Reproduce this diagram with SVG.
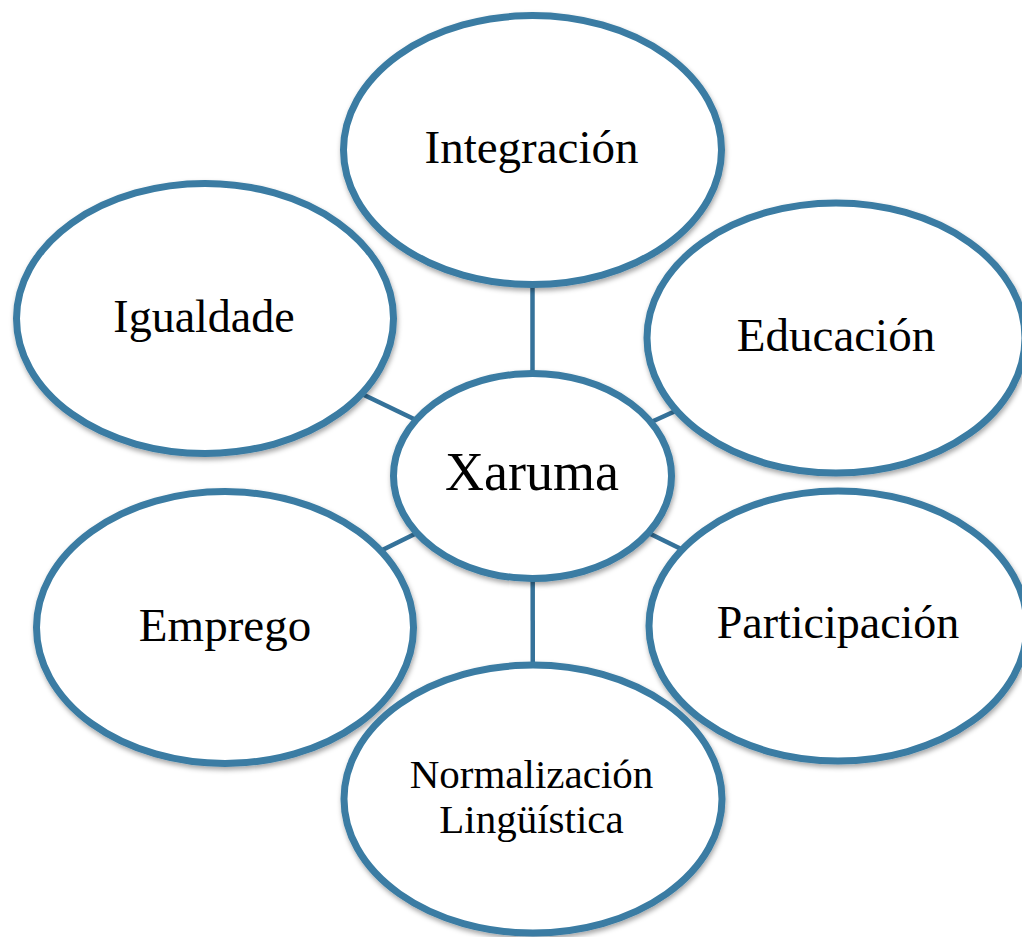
<svg xmlns="http://www.w3.org/2000/svg" width="1022" height="937" viewBox="0 0 1022 937">
  <defs>
    <filter id="sh" x="-10%" y="-10%" width="120%" height="125%">
      <feDropShadow dx="1" dy="3" stdDeviation="2.5" flood-color="#000" flood-opacity="0.35"/>
    </filter>
    <style>
      .node ellipse { fill: #ffffff; stroke: #3a7ca3; stroke-width: 7; filter: url(#sh); }
      .conn line { stroke: #35729a; stroke-width: 4.5; }
      .lbl { fill: #000; text-anchor: middle; }
    </style>
  </defs>
  <rect x="0" y="0" width="1022" height="937" fill="#ffffff"/>
  <g id="connectors" class="conn">
    <line x1="532.5" y1="476" x2="532.5" y2="150"/>
    <line x1="532.5" y1="476" x2="836" y2="338"/>
    <line x1="532.5" y1="476" x2="838" y2="626"/>
    <line x1="532.5" y1="476" x2="533" y2="799"/>
    <line x1="532.5" y1="476" x2="225" y2="627.5"/>
    <line x1="532.5" y1="476" x2="205" y2="318.5"/>
  </g>
  <g font-family="'Liberation Serif', 'DejaVu Serif', serif">
  <g id="node-xaruma" class="node">
    <ellipse cx="532.5" cy="476" rx="139" ry="102.5"/>
    <text class="lbl" x="532" y="490" font-size="54">Xaruma</text>
  </g>
  <g id="node-integracion" class="node">
    <ellipse cx="532.5" cy="150" rx="189" ry="134.5"/>
    <text class="lbl" x="531.5" y="163" font-size="47">Integración</text>
  </g>
  <g id="node-educacion" class="node">
    <ellipse cx="836" cy="338" rx="189" ry="135"/>
    <text class="lbl" x="836" y="351" font-size="47">Educación</text>
  </g>
  <g id="node-participacion" class="node">
    <ellipse cx="838" cy="626" rx="189" ry="135"/>
    <text class="lbl" x="838" y="638" font-size="46">Participación</text>
  </g>
  <g id="node-emprego" class="node">
    <ellipse cx="225" cy="627.5" rx="188.5" ry="136"/>
    <text class="lbl" x="225" y="641" font-size="47">Emprego</text>
  </g>
  <g id="node-normalizacion" class="node">
    <ellipse cx="533" cy="799" rx="189" ry="134"/>
    <text class="lbl" x="531.5" y="788" font-size="41">Normalización</text>
    <text class="lbl" x="531.5" y="833" font-size="41">Lingüística</text>
  </g>
  <g id="node-igualdade" class="node">
    <ellipse cx="205" cy="318.5" rx="188.5" ry="135"/>
    <text class="lbl" x="204" y="332" font-size="46">Igualdade</text>
  </g>
  </g>
</svg>
